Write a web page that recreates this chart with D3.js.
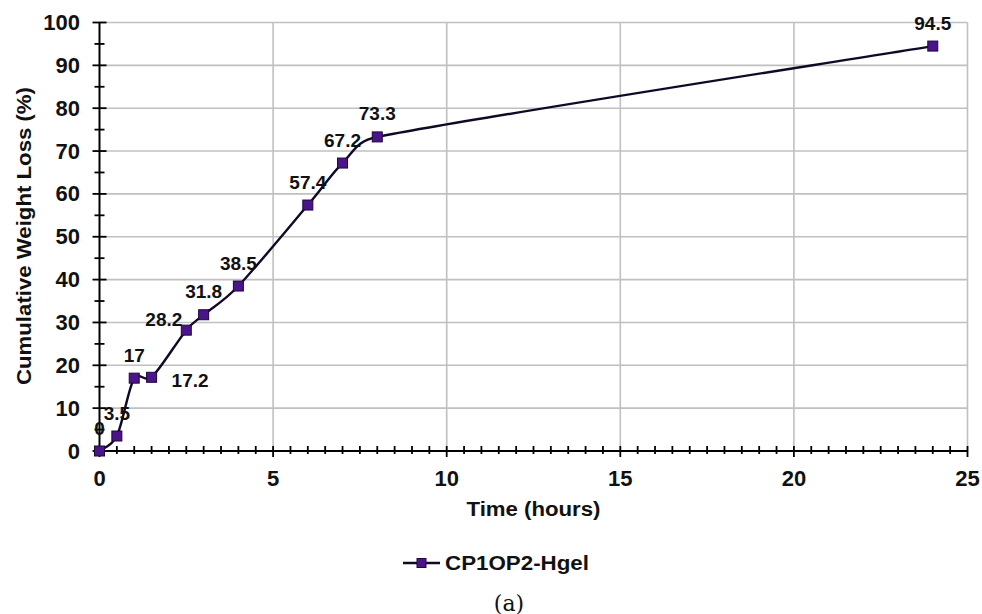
<!DOCTYPE html>
<html>
<head>
<meta charset="utf-8">
<script src="https://cdn.jsdelivr.net/npm/d3@7"></script>
<style>
  html, body { margin: 0; padding: 0; background: #fff; }
  svg { display: block; }
  text { font-family: "Liberation Sans", Arial, sans-serif; font-weight: bold; fill: #111; }
</style>
</head>
<body>
<svg id="chart" width="982" height="614"></svg>
<script>
// Cumulative weight loss of the CP1OP2-Hgel sample over time
const seriesName = "CP1OP2-Hgel";
const timeHours = [0, 0.5, 1, 1.5, 2.5, 3, 4, 6, 7, 8, 24];
const weightLoss = [0, 3.5, 17, 17.2, 28.2, 31.8, 38.5, 57.4, 67.2, 73.3, 94.5];
const xTicks = [0, 5, 10, 15, 20, 25];
const yTicks = [0, 10, 20, 30, 40, 50, 60, 70, 80, 90, 100];
const xTitle = "Time (hours)";
const yTitle = "Cumulative Weight Loss (%)";
const caption = "(a)";

// where each value label sits relative to its marker
const labelSide = ["above", "above", "above", "right", "left", "above", "above", "above", "above", "above", "above"];

const svg = d3.select("#chart");
const plotL = 99.5, plotR = 967.5, plotT = 22.5, plotB = 451;

const x = d3.scaleLinear().domain([0, 25]).range([plotL, plotR]);
const y = d3.scaleLinear().domain([0, 100]).range([plotB, plotT]);

const gridColor = "#c0c0c0";
const markerFill = "#4b1488";
const markerStroke = "#1c0740";
const lineColor = "#120826";

// grid
const grid = svg.append("g");
grid.selectAll("line.h").data(yTicks.filter(d => d > 0)).join("line")
  .attr("x1", plotL).attr("x2", plotR)
  .attr("y1", d => y(d)).attr("y2", d => y(d))
  .attr("stroke", gridColor).attr("stroke-width", 1.6);
grid.selectAll("line.v").data(xTicks.filter(d => d > 0)).join("line")
  .attr("x1", d => x(d)).attr("x2", d => x(d))
  .attr("y1", plotT).attr("y2", plotB)
  .attr("stroke", gridColor).attr("stroke-width", 1.6);

// y axis with minor ticks crossing the axis line
const yAxisG = svg.append("g");
yAxisG.append("line").attr("x1", plotL).attr("x2", plotL).attr("y1", plotT).attr("y2", plotB)
  .attr("stroke", "#000").attr("stroke-width", 2);
const yMinor = d3.range(0, 101, 5);
yAxisG.selectAll("line.t").data(yMinor).join("line")
  .attr("x1", d => d % 10 === 0 ? plotL - 7 : plotL - 5)
  .attr("x2", d => d % 10 === 0 ? plotL + 7 : plotL + 5)
  .attr("y1", d => y(d)).attr("y2", d => y(d))
  .attr("stroke", "#000").attr("stroke-width", 1.8);
yAxisG.selectAll("text").data(yTicks).join("text")
  .attr("x", 80).attr("y", d => y(d))
  .attr("text-anchor", "end").attr("dominant-baseline", "central")
  .attr("font-size", 22)
  .text(d => d);

// x axis with minor ticks every half hour
const xAxisG = svg.append("g");
xAxisG.append("line").attr("x1", plotL).attr("x2", plotR).attr("y1", plotB).attr("y2", plotB)
  .attr("stroke", "#000").attr("stroke-width", 2);
const xMinor = d3.range(0, 25.01, 0.5);
xAxisG.selectAll("line.t").data(xMinor).join("line")
  .attr("x1", d => x(d)).attr("x2", d => x(d))
  .attr("y1", plotB - 5)
  .attr("y2", d => Math.abs(d % 5) < 1e-9 ? plotB + 6 : plotB + 3)
  .attr("stroke", "#000").attr("stroke-width", 1.8);
xAxisG.selectAll("text").data(xTicks).join("text")
  .attr("x", d => x(d)).attr("y", 478)
  .attr("text-anchor", "middle").attr("dominant-baseline", "central")
  .attr("font-size", 22)
  .text(d => d);

// axis titles
svg.append("text")
  .attr("x", 533.5).attr("y", 509)
  .attr("text-anchor", "middle").attr("dominant-baseline", "central")
  .attr("font-size", 20)
  .attr("textLength", 134).attr("lengthAdjust", "spacingAndGlyphs")
  .text(xTitle);
svg.append("text")
  .attr("transform", "translate(24,236) rotate(-90)")
  .attr("text-anchor", "middle").attr("dominant-baseline", "central")
  .attr("font-size", 20)
  .attr("textLength", 298).attr("lengthAdjust", "spacingAndGlyphs")
  .text(yTitle);

// smoothed series line: cubic Bezier segments whose handles follow the
// neighbouring chord, with handle length capped to half the segment
const pts = timeHours.map((t, i) => [t, weightLoss[i]]);
function smoothPath(px) {
  const n = px.length, p = d3.path();
  const dist = (a, b) => Math.hypot(b[0] - a[0], b[1] - a[1]);
  const tangent = i => {
    const a = px[Math.max(0, i - 1)], b = px[Math.min(n - 1, i + 1)];
    return [(b[0] - a[0]) / 6, (b[1] - a[1]) / 6];
  };
  const capped = (t, len) => {
    const m = Math.hypot(t[0], t[1]), lim = len / 2;
    return m > lim ? [t[0] * lim / m, t[1] * lim / m] : t;
  };
  p.moveTo(px[0][0], px[0][1]);
  for (let i = 0; i < n - 1; i++) {
    const a = px[i], b = px[i + 1], len = dist(a, b);
    const t0 = capped(tangent(i), len), t1 = capped(tangent(i + 1), len);
    p.bezierCurveTo(a[0] + t0[0], a[1] + t0[1], b[0] - t1[0], b[1] - t1[1], b[0], b[1]);
  }
  return p.toString();
}
svg.append("path")
  .attr("d", smoothPath(pts.map(d => [x(d[0]), y(d[1])])))
  .attr("fill", "none")
  .attr("stroke", lineColor).attr("stroke-width", 2.4);

// markers
const ms = 10;
svg.append("g").selectAll("rect").data(pts).join("rect")
  .attr("x", d => x(d[0]) - ms / 2).attr("y", d => y(d[1]) - ms / 2)
  .attr("width", ms).attr("height", ms)
  .attr("fill", markerFill).attr("stroke", markerStroke).attr("stroke-width", 1);

// value labels
svg.append("g").selectAll("text").data(pts).join("text")
  .attr("x", (d, i) => x(d[0]) + (labelSide[i] === "right" ? 20 : labelSide[i] === "left" ? -4 : 0))
  .attr("y", (d, i) => y(d[1]) + (labelSide[i] === "right" ? 3 : labelSide[i] === "left" ? -11 : -23))
  .attr("text-anchor", (d, i) => labelSide[i] === "right" ? "start" : labelSide[i] === "left" ? "end" : "middle")
  .attr("dominant-baseline", "central")
  .attr("font-size", 19)
  .text(d => d[1]);

// legend
const lg = svg.append("g");
lg.append("line").attr("x1", 403).attr("x2", 440).attr("y1", 563).attr("y2", 563)
  .attr("stroke", lineColor).attr("stroke-width", 2.4);
lg.append("rect").attr("x", 421.5 - 4.5).attr("y", 563 - 4.5).attr("width", 9).attr("height", 9)
  .attr("fill", markerFill).attr("stroke", markerStroke).attr("stroke-width", 1);
lg.append("text").attr("x", 445).attr("y", 563)
  .attr("dominant-baseline", "central").attr("font-size", 20)
  .attr("textLength", 144).attr("lengthAdjust", "spacingAndGlyphs")
  .text(seriesName);

// panel caption
svg.append("text")
  .attr("x", 509).attr("y", 603)
  .attr("text-anchor", "middle").attr("dominant-baseline", "central")
  .style("font-family", "'DejaVu Serif', 'Liberation Serif', serif")
  .style("font-weight", "normal")
  .attr("font-size", 22)
  .text(caption);
</script>
</body>
</html>
